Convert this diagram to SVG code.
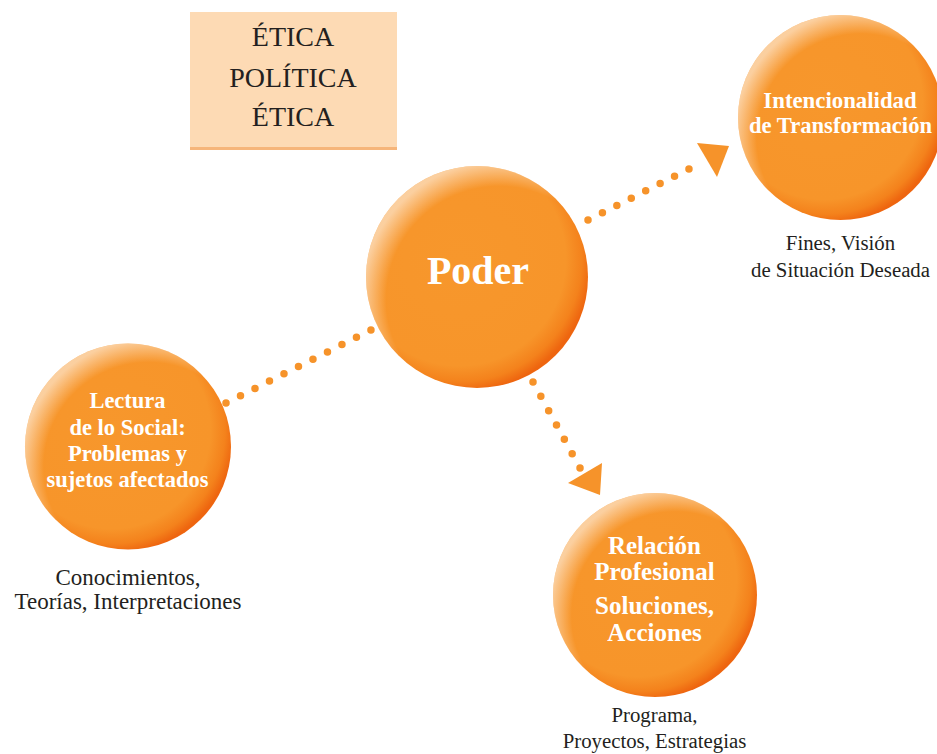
<svg xmlns="http://www.w3.org/2000/svg" width="937" height="754" viewBox="0 0 937 754">
<defs>
<radialGradient id="base" cx="0.42" cy="0.42" r="0.6">
<stop offset="0" stop-color="#f7972c"/>
<stop offset="0.8" stop-color="#f7952a"/>
<stop offset="0.92" stop-color="#f4821c"/>
<stop offset="1" stop-color="#ee650f"/>
</radialGradient>
<radialGradient id="hl" cx="0.6" cy="0.6" r="0.62">
<stop offset="0.82" stop-color="#ffffff" stop-opacity="0"/>
<stop offset="1" stop-color="#ffffff" stop-opacity="0.55"/>
</radialGradient>
</defs>
<style>
.ball{fill:url(#base)}
.shine{fill:url(#hl)}
.in{font-family:"Liberation Serif",serif;font-weight:bold;fill:#ffffff;text-anchor:middle}
.out{font-family:"Liberation Serif",serif;fill:#231f20;text-anchor:middle}
.dots{stroke:#f6932a;stroke-width:7.5;stroke-linecap:round;fill:none}
.head{fill:#f6932a}
</style>
<rect width="937" height="754" fill="#ffffff"/>
<g id="etica-box">
<rect x="190" y="13" width="207" height="137" fill="#f6b57a"/>
<rect x="190" y="12" width="207" height="135" fill="#fddab4"/>
<text class="out" x="293" y="46" font-size="28">ÉTICA</text>
<text class="out" x="293" y="87" font-size="28">POLÍTICA</text>
<text class="out" x="293" y="126" font-size="28">ÉTICA</text>
</g>
<g id="connectors">
<line class="dots" x1="226" y1="403" x2="371.5" y2="329.7" stroke-dasharray="0 16.23"/>
<line class="dots" x1="588" y1="220" x2="689.5" y2="168.7" stroke-dasharray="0 16.16"/>
<polygon class="head" points="697,143 729,146 717,177"/>
<line class="dots" x1="533" y1="382" x2="580.3" y2="468.5" stroke-dasharray="0 16.33"/>
<polygon class="head" points="568,483 602,463 600,495"/>
</g>
<g id="poder">
<circle class="ball" cx="477" cy="277" r="111"/>
<circle class="shine" cx="477" cy="277" r="111"/>
<text class="in" x="478" y="284" font-size="40">Poder</text>
</g>
<g id="intencionalidad">
<circle class="ball" cx="840.5" cy="117.5" r="102.5"/>
<circle class="shine" cx="840.5" cy="117.5" r="102.5"/>
<text class="in" x="840" y="108" font-size="22.8">Intencionalidad</text>
<text class="in" x="840.5" y="133" font-size="22.6">de Transformación</text>
<text class="out" x="840.5" y="250" font-size="20.8">Fines, Visión</text>
<text class="out" x="840.5" y="277" font-size="20.8">de Situación Deseada</text>
</g>
<g id="lectura">
<circle class="ball" cx="128" cy="446.5" r="103"/>
<circle class="shine" cx="128" cy="446.5" r="103"/>
<text class="in" x="127.5" y="408" font-size="22.5">Lectura</text>
<text class="in" x="127.5" y="435" font-size="22.5">de lo Social:</text>
<text class="in" x="127.5" y="461" font-size="22.5">Problemas y</text>
<text class="in" x="127.5" y="487" font-size="22.5">sujetos afectados</text>
<text class="out" x="128" y="585" font-size="23">Conocimientos,</text>
<text class="out" x="128" y="609" font-size="23">Teorías, Interpretaciones</text>
</g>
<g id="relacion">
<circle class="ball" cx="655" cy="595" r="102"/>
<circle class="shine" cx="655" cy="595" r="102"/>
<text class="in" x="654.5" y="554" font-size="25">Relación</text>
<text class="in" x="654.5" y="580" font-size="25">Profesional</text>
<text class="in" x="654.5" y="614" font-size="25">Soluciones,</text>
<text class="in" x="654.5" y="641" font-size="25">Acciones</text>
<text class="out" x="654.5" y="722" font-size="20.8">Programa,</text>
<text class="out" x="654.5" y="748" font-size="20.8">Proyectos, Estrategias</text>
</g>
</svg>
